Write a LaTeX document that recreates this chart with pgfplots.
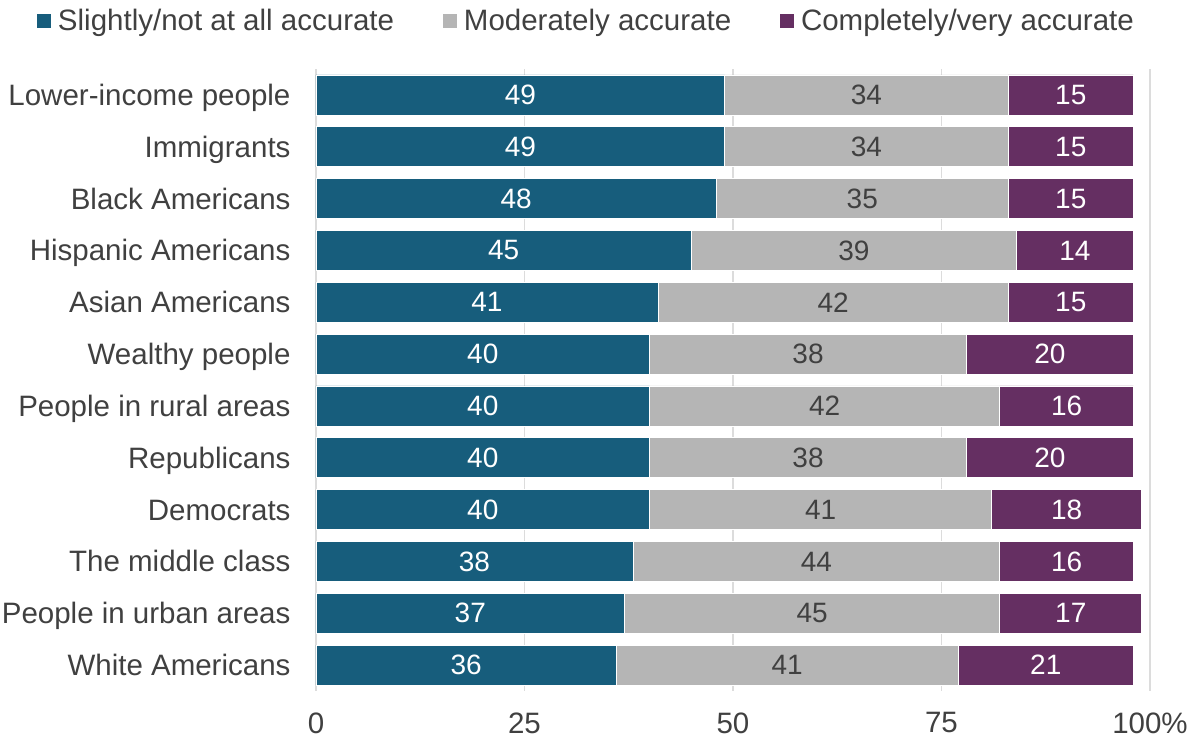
\documentclass[border=0pt]{standalone}
\usepackage{fontspec}
\setmainfont{Liberation Sans}
\usepackage{pgfplots}
\usepackage{pgfplotstable}
\pgfplotsset{compat=1.18}
\definecolor{cA}{HTML}{175D7C}
\definecolor{cB}{HTML}{B5B5B5}
\definecolor{cC}{HTML}{652F62}
\definecolor{txt}{HTML}{404040}
\definecolor{grd}{HTML}{DCDCDC}
\newcommand\cf{\fontsize{29.5bp}{34bp}\selectfont}
\newcommand\nf{\fontsize{28bp}{34bp}\selectfont}
\pgfplotstableread{
y a b c
0 49 34 15
1 49 34 15
2 48 35 15
3 45 39 14
4 41 42 15
5 40 38 20
6 40 42 16
7 40 38 20
8 40 41 18
9 38 44 16
10 37 45 17
11 36 41 21
}\datatable
\pgfplotsset{
  common/.style={
    scale only axis, width=834bp, height=622bp,
    xmin=0, xmax=100, ymin=-0.5, ymax=11.5, y dir=reverse,
  },
}
\begin{document}
\begin{tikzpicture}
\begin{axis}[common, name=main,
  xbar stacked, bar width=40bp,
  axis line style={draw=none},
  xmajorgrids, grid style={grd, line width=1.3bp},
  xtick={0,25,50,75,100}, xticklabels={0,25,50,75,100\%},
  ytick={0,...,11},
  yticklabels={Lower-income people, Immigrants, Black Americans, Hispanic Americans, Asian Americans, Wealthy people, People in rural areas, Republicans, Democrats, The middle class, People in urban areas, White Americans},
  major tick length=0pt,
  tick label style={font=\cf, text=txt},
  xticklabel style={yshift=-18bp},
  yticklabel style={xshift=-22bp, text height=27bp, text depth=6bp},
  legend columns=3,
  legend style={at={(0,1)}, anchor=west, xshift=-280bp, yshift=48bp, draw=none, fill=none,
    font=\cf, text=txt, inner sep=0pt,
    /tikz/every even column/.append style={column sep=42bp},
    nodes={inner xsep=6bp}},
  legend image code/.code={\fill[#1] (0bp,-7.5bp) rectangle (15bp,7.5bp);},
]
\addplot[fill=cA, draw=white, line width=0.8bp] table[x=a, y=y] {\datatable};
\addlegendentry{Slightly/not at all accurate}
\addplot[fill=cB, draw=white, line width=0.8bp] table[x=b, y=y] {\datatable};
\addlegendentry{Moderately accurate}
\addplot[fill=cC, draw=white, line width=0.8bp] table[x=c, y=y] {\datatable};
\addlegendentry{Completely/very accurate}
\end{axis}
\begin{axis}[common, hide axis,
  nodes near coords, point meta=explicit symbolic,
  every node near coord/.append style={anchor=center, font=\nf},
]
\addplot[draw=none, nodes near coords style={text=white}] table[x expr=\thisrow{a}/2, y=y, meta=a] {\datatable};
\addplot[draw=none, nodes near coords style={text=txt}] table[x expr=\thisrow{a}+\thisrow{b}/2, y=y, meta=b] {\datatable};
\addplot[draw=none, nodes near coords style={text=white}] table[x expr=\thisrow{a}+\thisrow{b}+\thisrow{c}/2, y=y, meta=c] {\datatable};
\end{axis}
\pgfresetboundingbox
\path ([xshift=-316bp, yshift=-54bp]main.south west) rectangle ([xshift=46bp, yshift=69bp]main.north east);
\end{tikzpicture}
\end{document}
